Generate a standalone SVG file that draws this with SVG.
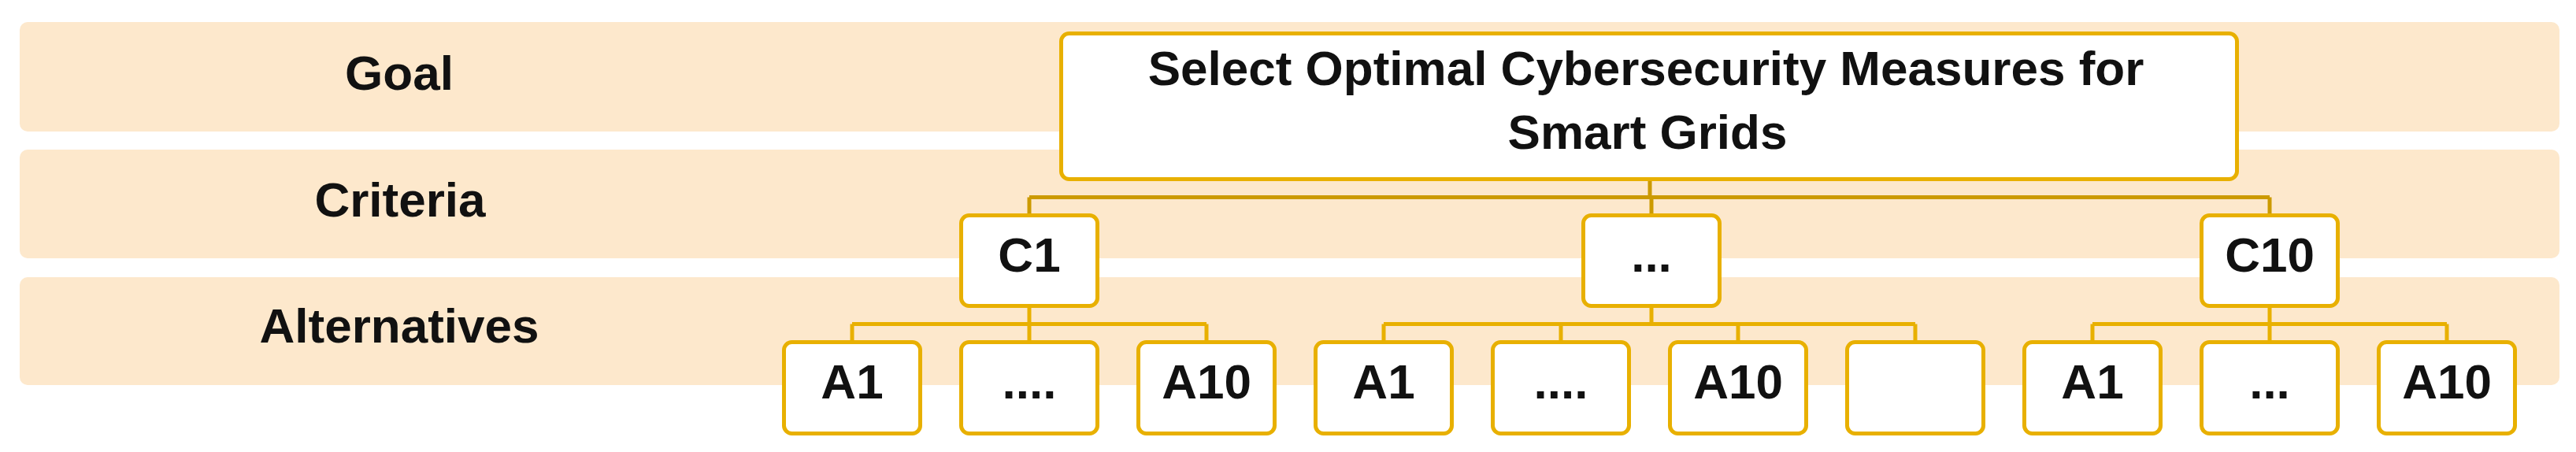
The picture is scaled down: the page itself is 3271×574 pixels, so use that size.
<svg xmlns="http://www.w3.org/2000/svg" width="3271" height="574" viewBox="0 0 3271 574">
<style>
.band{fill:#FDE8CC;}
.box{fill:#FFFFFF;stroke:#E8B000;stroke-width:5;}
.lbl{font-family:"Liberation Sans",Arial,sans-serif;font-weight:bold;font-size:62px;fill:#111111;text-anchor:middle;}
.c1{fill:none;stroke:#CC9A00;stroke-width:5;}
.c2{fill:none;stroke:#E8B000;stroke-width:5;}
</style>
<rect width="3271" height="574" fill="#FFFFFF"/>
<g id="layers">
  <g id="layer-goal"><rect class="band" x="25" y="28" width="3225" height="139" rx="10"/><text class="lbl" x="507" y="114">Goal</text></g>
  <g id="layer-criteria"><rect class="band" x="25" y="190" width="3225" height="138" rx="10"/><text class="lbl" x="508" y="275">Criteria</text></g>
  <g id="layer-alternatives"><rect class="band" x="25" y="352" width="3225" height="137" rx="10"/><text class="lbl" x="507" y="435">Alternatives</text></g>
</g>
<g id="connectors">
  <path class="c1" d="M2095,230 V250.5 M1307,250.5 H2882 M1307,250.5 V272 M2097,250.5 V272 M2882,250.5 V272"/>
  <path class="c2" d="M1307,391 V411.5 M1082,411.5 H1532 M1082,411.5 V433 M1307,411.5 V433 M1532,411.5 V433"/>
  <path class="c2" d="M2097,391 V411.5 M1757,411.5 H2432 M1757,411.5 V433 M1982,411.5 V433 M2207,411.5 V433 M2432,411.5 V433"/>
  <path class="c2" d="M2882,391 V411.5 M2657,411.5 H3107 M2657,411.5 V433 M2882,411.5 V433 M3107,411.5 V433"/>
</g>
<g id="goal"><rect class="box" x="1347.5" y="42.5" width="1493" height="185" rx="10"/>
  <text class="lbl" x="2090" y="108">Select Optimal Cybersecurity Measures for</text>
  <text class="lbl" x="2092" y="189">Smart Grids</text></g>
<g id="c1"><rect class="box" x="1220.5" y="273.5" width="173" height="115" rx="10"/><text class="lbl" x="1307" y="345">C1</text></g>
<g id="c-dots"><rect class="box" x="2010.5" y="273.5" width="173" height="115" rx="10"/><text class="lbl" x="2097" y="345">...</text></g>
<g id="c10"><rect class="box" x="2795.5" y="273.5" width="173" height="115" rx="10"/><text class="lbl" x="2882" y="345">C10</text></g>
<g id="g1-a1"><rect class="box" x="995.5" y="434.5" width="173" height="116" rx="10"/><text class="lbl" x="1082" y="506">A1</text></g>
<g id="g1-dots"><rect class="box" x="1220.5" y="434.5" width="173" height="116" rx="10"/><text class="lbl" x="1307" y="506">....</text></g>
<g id="g1-a10"><rect class="box" x="1445.5" y="434.5" width="173" height="116" rx="10"/><text class="lbl" x="1532" y="506">A10</text></g>
<g id="g2-a1"><rect class="box" x="1670.5" y="434.5" width="173" height="116" rx="10"/><text class="lbl" x="1757" y="506">A1</text></g>
<g id="g2-dots"><rect class="box" x="1895.5" y="434.5" width="173" height="116" rx="10"/><text class="lbl" x="1982" y="506">....</text></g>
<g id="g2-a10"><rect class="box" x="2120.5" y="434.5" width="173" height="116" rx="10"/><text class="lbl" x="2207" y="506">A10</text></g>
<g id="g2-empty"><rect class="box" x="2345.5" y="434.5" width="173" height="116" rx="10"/></g>
<g id="g3-a1"><rect class="box" x="2570.5" y="434.5" width="173" height="116" rx="10"/><text class="lbl" x="2657" y="506">A1</text></g>
<g id="g3-dots"><rect class="box" x="2795.5" y="434.5" width="173" height="116" rx="10"/><text class="lbl" x="2882" y="506">...</text></g>
<g id="g3-a10"><rect class="box" x="3020.5" y="434.5" width="173" height="116" rx="10"/><text class="lbl" x="3107" y="506">A10</text></g>
</svg>
